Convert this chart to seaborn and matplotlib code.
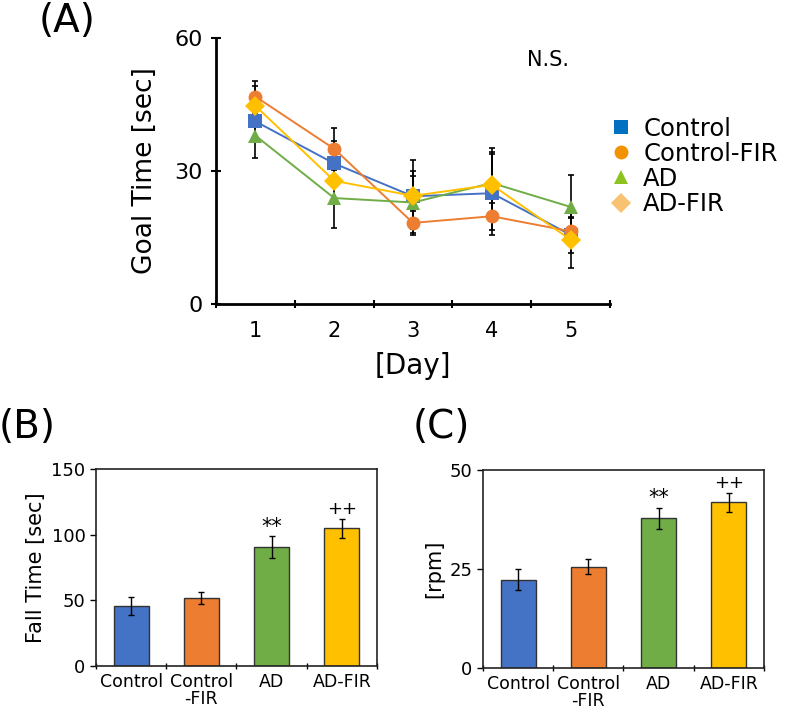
import numpy as np
import pandas as pd
import matplotlib
matplotlib.use("Agg")
import matplotlib.pyplot as plt
import seaborn as sns
from matplotlib.lines import Line2D

# -----------------------------
# Data
# -----------------------------
groups = ["Control", "Control-FIR", "AD", "AD-FIR"]
days = [1, 2, 3, 4, 5]

goal_control = [41.2, 31.7, 24.3, 25.0, 15.6]
goal_control_fir = [46.8, 35.0, 18.3, 19.8, 16.4]
goal_ad = [38.0, 23.9, 22.9, 27.3, 21.9]
goal_ad_fir = [44.7, 27.8, 24.4, 26.9, 14.5]

goal_err_control = [4.0, 5.0, 8.3, 9.4, 4.0]
goal_err_control_fir = [3.4, 4.7, 2.7, 3.0, 3.0]
goal_err_ad = [5.1, 6.8, 6.0, 7.9, 7.3]
goal_err_ad_fir = [4.5, 4.0, 5.5, 7.0, 6.4]

bar_labels = ["Control", "Control\n-FIR", "AD", "AD-FIR"]
fall_time = [45.6, 51.7, 90.7, 104.9]
fall_err = [7.0, 4.3, 8.1, 7.2]
rpm = [22.3, 25.6, 37.8, 41.8]
rpm_err = [2.7, 1.9, 2.7, 2.5]
marks = ["", "", "**", "++"]

line_colors = ["#4472C4", "#ED7D31", "#70AD47", "#FFC000"]
legend_colors = ["#0070C0", "#F39200", "#8DC21F", "#F9C270"]
markers = ["s", "o", "^", "D"]
bar_colors = ["#4472C4", "#ED7D31", "#70AD47", "#FFC000"]

sns.set_style("white")
plt.rcParams["font.family"] = ["DejaVu Sans"]
plt.rcParams["text.color"] = "black"
plt.rcParams["axes.labelcolor"] = "black"
plt.rcParams["xtick.color"] = "black"
plt.rcParams["ytick.color"] = "black"

fig = plt.figure(figsize=(7.86, 7.15), dpi=100)

# -----------------------------
# (A) Goal time
# -----------------------------
ax_a = fig.add_axes([0.2748, 0.5748, 0.5013, 0.372])

goal_df = pd.DataFrame({
    "Day": days * 4,
    "Goal": goal_control + goal_control_fir + goal_ad + goal_ad_fir,
    "Err": goal_err_control + goal_err_control_fir + goal_err_ad + goal_err_ad_fir,
    "Group": sum([[g] * 5 for g in groups], []),
})

for g, c in zip(groups, line_colors):
    sub = goal_df[goal_df["Group"] == g]
    ax_a.errorbar(sub["Day"], sub["Goal"], yerr=sub["Err"], fmt="none",
                  ecolor="black", elinewidth=1.2, capsize=2.5, capthick=1.2, zorder=2)

sns.lineplot(data=goal_df, x="Day", y="Goal", hue="Group", style="Group",
             palette=line_colors, markers=markers, dashes=False,
             markersize=10, markeredgewidth=0, linewidth=1.4,
             legend=False, ax=ax_a, zorder=3)

ax_a.set_xlim(0.5, 5.5)
ax_a.set_ylim(0, 60)
ax_a.set_yticks([0, 30, 60])
ax_a.set_xticks(days)
ax_a.set_xticks([0.5, 1.5, 2.5, 3.5, 4.5, 5.5], minor=True)
ax_a.tick_params(axis="x", which="major", length=0, labelsize=15, pad=12)
ax_a.tick_params(axis="x", which="minor", direction="inout", length=6, width=1.5, bottom=True)
ax_a.tick_params(axis="y", direction="inout", length=7, width=1.5, left=True, labelsize=16, pad=6)
for s in ["top", "right"]:
    ax_a.spines[s].set_visible(False)
for s in ["left", "bottom"]:
    ax_a.spines[s].set_linewidth(2)
    ax_a.spines[s].set_color("black")
ax_a.set_xlabel("[Day]", fontsize=20, labelpad=8)
ax_a.set_ylabel("Goal Time [sec]", fontsize=19, labelpad=12)
ax_a.text(0.843, 0.917, "N.S.", transform=ax_a.transAxes, fontsize=15,
          ha="center", va="center")

handles = [Line2D([], [], linestyle="none", marker=m, color=c, markersize=10, markeredgewidth=0)
           for m, c in zip(markers, legend_colors)]
fig.legend(handles, groups, loc="upper left", bbox_to_anchor=(0.775, 0.837),
           frameon=False, fontsize=17.5, handletextpad=0.4, labelspacing=0.05,
           handlelength=1.0, borderaxespad=0, borderpad=0)
fig.text(0.085, 0.97, "(A)", fontsize=28, ha="center", va="center")

# -----------------------------
# (B) and (C) bar charts
# -----------------------------
def bar_panel(ax, values, errs, ymax, yticks, ylabel):
    df = pd.DataFrame({"Group": bar_labels, "Value": values})
    sns.barplot(data=df, x="Group", y="Value", hue="Group", palette=bar_colors,
                saturation=1, width=0.5, edgecolor="#333333", linewidth=1.0,
                legend=False, ax=ax)
    ax.errorbar(np.arange(4), values, yerr=errs, fmt="none", ecolor="black",
                elinewidth=1.0, capsize=2.5, capthick=1.0)
    for i, (v, e, m) in enumerate(zip(values, errs, marks)):
        if m:
            ax.annotate(m, (i, v + e), xytext=(0, 7), textcoords="offset points",
                        ha="center", va="center", fontsize=15 if m == "**" else 13)
    ax.set_ylim(0, ymax)
    ax.set_xlim(-0.5, 3.5)
    ax.set_yticks(yticks)
    ax.set_xticks([-0.5, 0.5, 1.5, 2.5, 3.5], minor=True)
    ax.tick_params(axis="x", which="major", length=0, labelsize=12.5, pad=5)
    ax.tick_params(axis="x", which="minor", direction="inout", length=5, width=1, bottom=True)
    ax.tick_params(axis="y", direction="out", length=4, width=1, left=True, labelsize=13)
    for lbl in ax.get_xticklabels():
        lbl.set_linespacing(0.95)
    for s in ax.spines.values():
        s.set_linewidth(1.2)
        s.set_color("#222222")
    ax.set_xlabel("")
    ax.set_ylabel(ylabel, fontsize=15)

ax_b = fig.add_axes([0.1221, 0.0685, 0.3575, 0.2755])
bar_panel(ax_b, fall_time, fall_err, 150, [0, 50, 100, 150], "Fall Time [sec]")
fig.text(0.035, 0.403, "(B)", fontsize=28, ha="center", va="center")

ax_c = fig.add_axes([0.6145, 0.0657, 0.3575, 0.277])
bar_panel(ax_c, rpm, rpm_err, 50, [0, 25, 50], "[rpm]")
fig.text(0.562, 0.403, "(C)", fontsize=28, ha="center", va="center")

plt.savefig("out.png", dpi=100)
